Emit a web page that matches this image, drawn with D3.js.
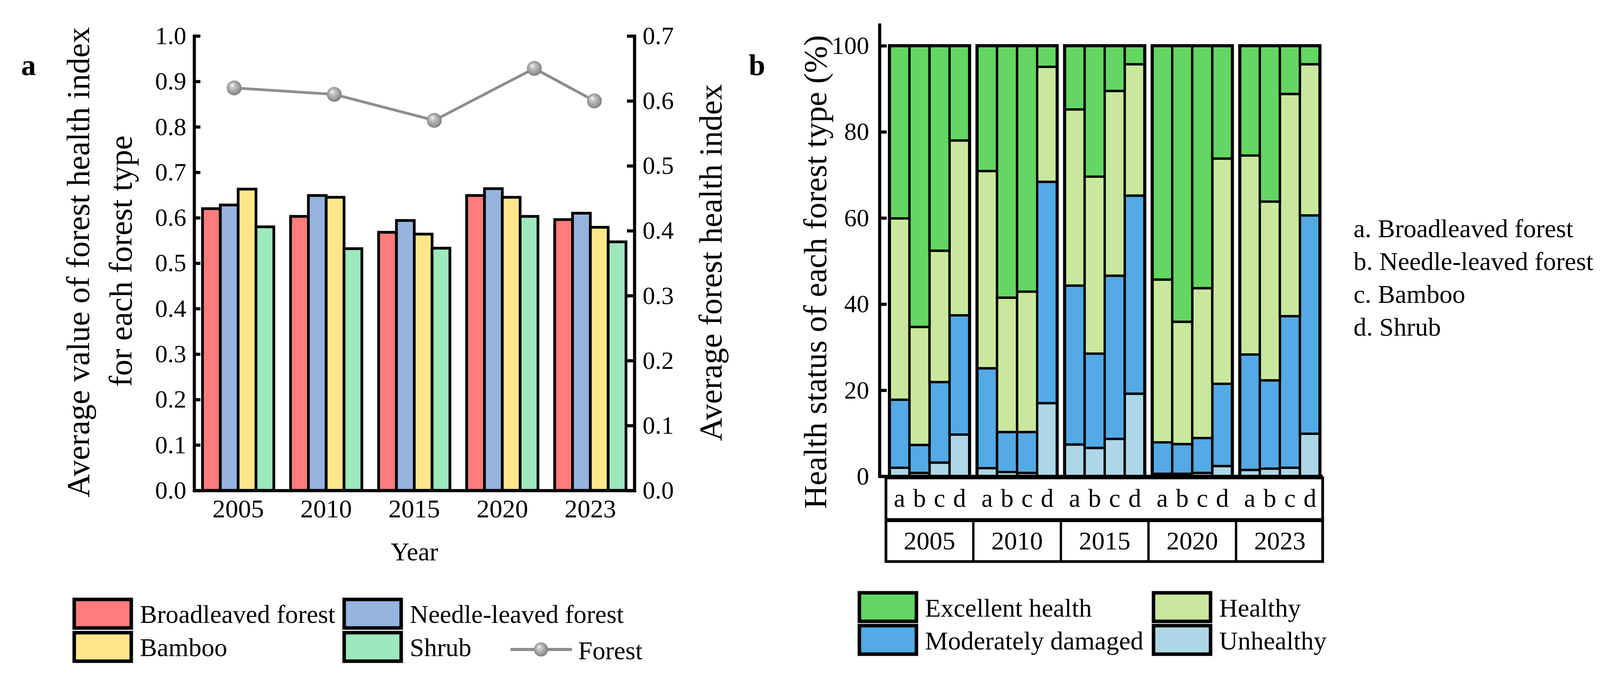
<!DOCTYPE html>
<html>
<head>
<meta charset="utf-8">
<script src="https://cdn.jsdelivr.net/npm/d3@7"></script>
<style>
  body { margin: 0; background: #fff; }
</style>
</head>
<body>
<svg id="chart" width="4128" height="1735"></svg>
<script>
/* data (a) */
var years = ["2005", "2010", "2015", "2020", "2023"];
var forestTypes = ["Broadleaved forest", "Needle-leaved forest", "Bamboo", "Shrub"];
var broadleaved = [0.620, 0.603, 0.568, 0.649, 0.596];
var needleLeaved = [0.628, 0.649, 0.594, 0.664, 0.610];
var bamboo = [0.663, 0.645, 0.564, 0.645, 0.579];
var shrub = [0.580, 0.532, 0.533, 0.603, 0.547];
var forestIndex = [0.62, 0.61, 0.57, 0.65, 0.60];
var leftTicks = [0, 0.1, 0.2, 0.3, 0.4, 0.5, 0.6, 0.7, 0.8, 0.9, 1.0];
var rightTicks = [0, 0.1, 0.2, 0.3, 0.4, 0.5, 0.6, 0.7];

/* data (b), percent per year, types a b c d */
var typeKeys = ["a", "b", "c", "d"];
var statuses = ["Unhealthy", "Moderately damaged", "Healthy", "Excellent health"];
var unhealthy = [[2.0, 0.8, 3.2, 9.7], [1.9, 1.0, 0.8, 17.0], [7.4, 6.6, 8.7, 19.2], [0.6, 0.6, 0.8, 2.4], [1.5, 1.8, 2.0, 9.9]];
var moderate = [[15.8, 6.5, 18.7, 27.7], [23.2, 9.3, 9.5, 51.4], [36.9, 21.9, 37.9, 46.0], [7.3, 6.9, 8.1, 19.1], [26.8, 20.5, 35.2, 50.7]];
var healthy = [[42.1, 27.4, 30.5, 40.6], [45.8, 31.2, 32.6, 26.7], [40.9, 41.1, 42.9, 30.5], [37.8, 28.4, 34.8, 52.3], [46.2, 41.5, 51.6, 35.1]];
var excellent = [[40.1, 65.3, 47.6, 22.0], [29.1, 58.5, 57.1, 4.9], [14.8, 30.4, 10.5, 4.3], [54.3, 64.1, 56.3, 26.2], [25.5, 36.2, 11.2, 4.3]];
var pctTicks = [0, 20, 40, 60, 80, 100];
var typeNames = ["a. Broadleaved forest", "b. Needle-leaved forest", "c. Bamboo", "d. Shrub"];

var typeColors = ["#ff7c7c", "#96b4e0", "#ffe68c", "#9ee8bd"];
var statusColors = ["#add7e6", "#53aae4", "#c9e89d", "#63d663"];
var serif = '"Liberation Serif", Tinos, serif';

var svg = d3.select("#chart");

// ball marker gradient
var grad = svg.append("defs").append("radialGradient")
  .attr("id", "ball").attr("fx", "35%").attr("fy", "30%").attr("r", "60%");
grad.append("stop").attr("offset", "0%").attr("stop-color", "#ffffff");
grad.append("stop").attr("offset", "25%").attr("stop-color", "#c8c8c8");
grad.append("stop").attr("offset", "70%").attr("stop-color", "#959595");
grad.append("stop").attr("offset", "100%").attr("stop-color", "#6a6a6a");

/* ---------- panel a ---------- */
var ax0 = 497, ax1 = 1624, ayTop = 92, ayBot = 1255;

var xA = d3.scaleBand().domain(years).range([ax0, ax1]).paddingInner(0.19).paddingOuter(0.095);
var xSub = d3.scaleBand().domain(forestTypes).range([0, xA.bandwidth()]);
var yL = d3.scaleLinear().domain([0, 1]).range([ayBot, ayTop]);
var yR = d3.scaleLinear().domain([0, 0.7]).range([ayBot, ayTop]);
var xYear = d3.scaleLinear().domain([2003, 2025]).range([ax0, ax1]);

var seriesA = [broadleaved, needleLeaved, bamboo, shrub];
var gA = svg.append("g");

years.forEach(function(yr, i) {
  gA.selectAll(null)
    .data(forestTypes)
    .enter().append("rect")
    .attr("x", function(t) { return xA(yr) + xSub(t); })
    .attr("y", function(t, k) { return yL(seriesA[k][i]); })
    .attr("width", xSub.bandwidth())
    .attr("height", function(t, k) { return yL(0) - yL(seriesA[k][i]); })
    .attr("fill", function(t, k) { return typeColors[k]; })
    .attr("stroke", "#000").attr("stroke-width", 7);
});

// axes
function styleAxis(g, w) {
  g.select(".domain").attr("stroke-width", w).attr("stroke-linecap", "square");
  g.selectAll(".tick line").attr("stroke-width", w);
  g.selectAll("text").attr("fill", "#000");
}

var axL = gA.append("g").attr("transform", "translate(" + ax0 + ",0)")
  .call(d3.axisLeft(yL).tickValues(leftTicks).tickFormat(d3.format(".1f")).tickSizeInner(-16).tickSizeOuter(0).tickPadding(20));
styleAxis(axL, 8);
axL.selectAll("text").attr("font-size", 64);

var axR = gA.append("g").attr("transform", "translate(" + ax1 + ",0)")
  .call(d3.axisRight(yR).tickValues(rightTicks).tickFormat(d3.format(".1f")).tickSizeInner(-19).tickSizeOuter(0).tickPadding(21));
styleAxis(axR, 8);
axR.selectAll("text").attr("font-size", 64);

var axB = gA.append("g").attr("transform", "translate(0," + ayBot + ")")
  .call(d3.axisBottom(xA).tickSize(0).tickSizeOuter(0).tickPadding(22));
styleAxis(axB, 8);
axB.selectAll("text").attr("font-size", 66);

// forest index line
var pts = years.map(function(yr, i) { return [xYear(+yr), yR(forestIndex[i])]; });
gA.append("path").attr("d", d3.line()(pts))
  .attr("fill", "none").attr("stroke", "#8e8e8e").attr("stroke-width", 7);
gA.selectAll(".ball").data(pts).enter().append("circle")
  .attr("cx", function(d) { return d[0]; }).attr("cy", function(d) { return d[1]; })
  .attr("r", 19).attr("fill", "url(#ball)");

// titles
gA.append("text").attr("transform", "translate(200,671) rotate(-90)")
  .attr("text-anchor", "middle").attr("dominant-baseline", "central").attr("font-size", 83)
  .text("Average value of forest health index");
gA.append("text").attr("transform", "translate(309,668) rotate(-90)")
  .attr("text-anchor", "middle").attr("dominant-baseline", "central").attr("font-size", 83)
  .text("for each forest type");
gA.append("text").attr("transform", "translate(1819,672) rotate(-90)")
  .attr("text-anchor", "middle").attr("dominant-baseline", "central").attr("font-size", 83)
  .text("Average forest health index");
gA.append("text").attr("x", 1061).attr("y", 1434).attr("text-anchor", "middle")
  .attr("font-size", 66).text("Year");
gA.append("text").attr("x", 73).attr("y", 192).attr("text-anchor", "middle")
  .attr("font-size", 76).attr("font-weight", "bold").text("a");

// legend a
var legColX = [190, 881], legRowY = [1534, 1619];
var legA = gA.append("g");
forestTypes.forEach(function(t, k) {
  var lx = legColX[k % 2], ly = legRowY[Math.floor(k / 2)];
  legA.append("rect").attr("x", lx).attr("y", ly).attr("width", 146).attr("height", 73)
    .attr("fill", typeColors[k]).attr("stroke", "#000").attr("stroke-width", 9);
  legA.append("text").attr("x", lx + 168).attr("y", ly + 37).attr("dominant-baseline", "central")
    .attr("font-size", 66).text(t);
});
legA.append("line").attr("x1", 1307).attr("x2", 1464).attr("y1", 1662).attr("y2", 1662)
  .attr("stroke", "#8e8e8e").attr("stroke-width", 8);
legA.append("circle").attr("cx", 1385).attr("cy", 1662).attr("r", 18).attr("fill", "url(#ball)");
legA.append("text").attr("x", 1480).attr("y", 1664).attr("dominant-baseline", "central")
  .attr("font-size", 66).text("Forest");

/* ---------- panel b ---------- */
var bx0 = 2268, bx1 = 3388, byTop = 117, byBot = 1219, axisBX = 2252;

var xB = d3.scaleBand().domain(years).range([bx0, bx1]).paddingInner(0.085).paddingOuter(0.04);
var xBs = d3.scaleBand().domain(typeKeys).range([0, xB.bandwidth()]);
var yB = d3.scaleLinear().domain([0, 100]).range([byBot, byTop]);

var statusData = [unhealthy, moderate, healthy, excellent];
var rowsB = [];
years.forEach(function(yr, i) {
  typeKeys.forEach(function(t, j) {
    var row = { year: yr, type: t };
    statuses.forEach(function(s, k) { row[s] = statusData[k][i][j]; });
    rowsB.push(row);
  });
});
var stackB = d3.stack().keys(statuses)(rowsB);

var gB = svg.append("g");
gB.selectAll(".layer").data(stackB).enter().append("g")
  .attr("fill", function(d, k) { return statusColors[k]; })
  .selectAll("rect").data(function(d) { return d; }).enter().append("rect")
  .attr("x", function(d) { return xB(d.data.year) + xBs(d.data.type); })
  .attr("y", function(d) { return yB(d[1]); })
  .attr("width", xBs.bandwidth())
  .attr("height", function(d) { return yB(d[0]) - yB(d[1]); })
  .attr("stroke", "#000").attr("stroke-width", 6);

// group outlines
gB.selectAll(".grp").data(years).enter().append("rect")
  .attr("x", function(d) { return xB(d); }).attr("y", yB(100))
  .attr("width", xB.bandwidth()).attr("height", yB(0) - yB(100))
  .attr("fill", "none").attr("stroke", "#000").attr("stroke-width", 8);

// y axis b
var axBL = gB.append("g").attr("transform", "translate(" + axisBX + ",0)")
  .call(d3.axisLeft(yB).tickValues(pctTicks).tickSizeInner(-18).tickSizeOuter(0).tickPadding(27));
styleAxis(axBL, 8);
axBL.select(".domain").remove();
axBL.selectAll("text").attr("font-size", 64);
gB.append("line").attr("x1", axisBX).attr("x2", axisBX).attr("y1", 60).attr("y2", byBot)
  .attr("stroke", "#000").attr("stroke-width", 8);
gB.append("line").attr("x1", axisBX - 4).attr("x2", 3386).attr("y1", byBot).attr("y2", byBot)
  .attr("stroke", "#000").attr("stroke-width", 8);

// category table under bars
var tabTop = 1223, tabMid = 1331, tabBot = 1437, tabL = 2268, tabR = 3386;
var tab = gB.append("g").attr("fill", "none").attr("stroke", "#000");
tab.append("rect").attr("x", tabL).attr("y", tabTop).attr("width", tabR - tabL).attr("height", tabBot - tabTop)
  .attr("stroke-width", 7);
tab.append("line").attr("x1", tabL).attr("x2", tabR).attr("y1", tabMid).attr("y2", tabMid).attr("stroke-width", 10);
tab.selectAll(".div").data(years.slice(1)).enter().append("line")
  .attr("x1", function(d) { return xB(d) - xB.step() * xB.paddingInner() / 2; })
  .attr("x2", function(d) { return xB(d) - xB.step() * xB.paddingInner() / 2; })
  .attr("y1", tabMid).attr("y2", tabBot).attr("stroke-width", 6);

years.forEach(function(yr) {
  gB.selectAll(null).data(typeKeys).enter().append("text")
    .attr("x", function(t) { return xB(yr) + xBs(t) + xBs.bandwidth() / 2; })
    .attr("y", 1297).attr("text-anchor", "middle").attr("font-size", 66)
    .text(function(t) { return t; });
});
gB.selectAll(".yr").data(years).enter().append("text")
  .attr("x", function(d) { return xB(d) + xB.bandwidth() / 2; })
  .attr("y", 1406).attr("text-anchor", "middle").attr("font-size", 66)
  .text(function(d) { return d; });

// titles b
gB.append("text").attr("transform", "translate(2087,696) rotate(-90)")
  .attr("text-anchor", "middle").attr("dominant-baseline", "central").attr("font-size", 83)
  .text("Health status of each forest type (%)");
gB.append("text").attr("x", 1938).attr("y", 192).attr("text-anchor", "middle")
  .attr("font-size", 76).attr("font-weight", "bold").text("b");

// type name list
gB.selectAll(".tn").data(typeNames).enter().append("text")
  .attr("x", 3465).attr("y", function(d, i) { return 607 + i * 84; })
  .attr("font-size", 66).text(function(d) { return d; });

// legend b (Excellent, Healthy / Moderately damaged, Unhealthy)
var legOrder = [3, 2, 1, 0];
var legBColX = [2200, 2953], legBRowY = [1517, 1601];
var legB = gB.append("g");
legOrder.forEach(function(k, n) {
  var lx = legBColX[n % 2], ly = legBRowY[Math.floor(n / 2)];
  legB.append("rect").attr("x", lx).attr("y", ly).attr("width", 146).attr("height", 73)
    .attr("fill", statusColors[k]).attr("stroke", "#000").attr("stroke-width", 9);
  legB.append("text").attr("x", lx + 168).attr("y", ly + 38).attr("dominant-baseline", "central")
    .attr("font-size", 66).text(statuses[k]);
});

// one serif face for every label
svg.selectAll("text").style("font-family", serif).style("fill", "#000");
</script>
</body>
</html>
